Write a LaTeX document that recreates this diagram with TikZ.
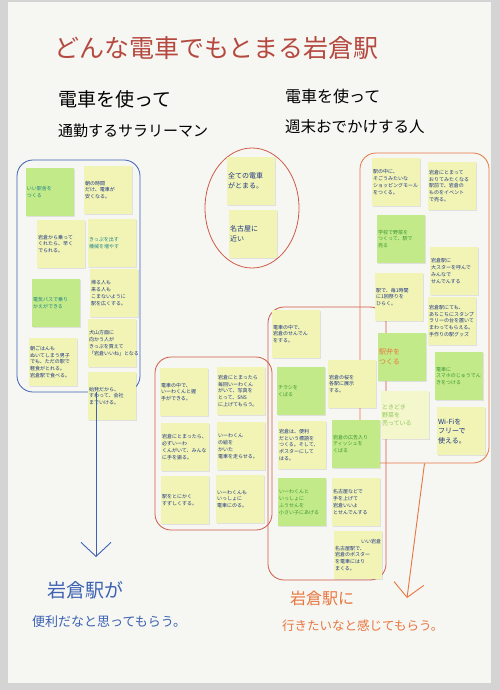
\documentclass[tikz,border=0pt]{standalone}
\usepackage{fontspec}
\usepackage{xcolor}
\usepackage{tikz}
\usetikzlibrary{arrows.meta,shadows,shapes.geometric}
\newfontfamily\iwajp{Noto Sans CJK JP}
\definecolor{iwapaper}{HTML}{F6F6F3}
\definecolor{iwaedge}{HTML}{D4D4D4}
\definecolor{iwatitle}{HTML}{B5493F}
\definecolor{iwared}{HTML}{CF5A46}
\definecolor{iwaorange}{HTML}{E8763E}
\definecolor{iwablue}{HTML}{3D62B3}
\definecolor{iwayellow}{HTML}{F1F4B4}
\definecolor{iwapale}{HTML}{F4F6CC}
\definecolor{iwagreen}{HTML}{C3EA88}
\definecolor{iwaink}{HTML}{1F3586}
\definecolor{iwagreenink}{HTML}{3A9636}
\definecolor{iwateal}{HTML}{20848A}
\definecolor{iwalightink}{HTML}{8DC85E}
\tikzset{%
  iwanote/.style={%
    fill=iwayellow,
    minimum width=48pt,
    minimum height=48pt,
    text width=46pt,
    inner sep=1pt,
    align=left,
    text=iwaink,
    font=\iwajp\fontsize{5}{6.8}\selectfont,
    drop shadow={opacity=0.18,shadow xshift=0.8pt,shadow yshift=-0.8pt}
  },
  iwagreennote/.style={%
    iwanote,
    fill=iwagreen,
    text=iwagreenink
  },
  iwabignote/.style={%
    font=\iwajp\fontsize{7}{9.5}\selectfont
  },
  iwagroup/.style={%
    draw,
    line width=0.8pt,
    rounded corners=16pt
  },
  iwahead/.style={%
    anchor=west,
    inner sep=0pt,
    text=black
  },
  iwaarrow/.style={-{Straight Barb[length=14pt,width=30pt]},line width=0.9pt}
}

\begin{document}
\begin{tikzpicture}[x=1pt,y=-1pt]
    \useasboundingbox (0,0) rectangle (500,690);
    \fill[iwaedge] (0,0) rectangle (500,690);
    \fill[iwapaper] (8,2) rectangle (491,683);

    \node[iwahead,text=iwatitle,font=\iwajp\fontsize{25}{25}\selectfont] (title) at (54,48) {どんな電車でもとまる岩倉駅};
    \node[iwahead,font=\iwajp\fontsize{19}{19}\selectfont] (commute1) at (58,99) {電車を使って};
    \node[iwahead,font=\iwajp\fontsize{15}{15}\selectfont] (commute2) at (58,131) {通勤するサラリーマン};
    \node[iwahead,font=\iwajp\fontsize{16}{16}\selectfont] (weekend1) at (285,96) {電車を使って};
    \node[iwahead,font=\iwajp\fontsize{15.5}{15.5}\selectfont] (weekend2) at (285,127) {週末おでかけする人};

    \node[iwagroup,draw=iwablue,minimum width=123pt,minimum height=232pt] (leftgroup) at (78.5,276) {};
    \node[ellipse,draw=iwared,line width=0.8pt,minimum width=94pt,minimum height=120pt] (stopgroup) at (252,208) {};
    \node[iwagroup,draw=iwared,minimum width=117pt,minimum height=173pt] (iwakungroup) at (213.5,443.5) {};
    \node[iwagroup,draw=iwared,minimum width=118pt,minimum height=273pt] (promogroup) at (327,443.5) {};
    \node[iwagroup,draw=iwaorange,minimum width=129pt,minimum height=310pt] (rightgroup) at (424.5,308) {};

    \node[iwagreennote,text=iwateal] (station) at (50,192) {いい駅舎を\\つくる};
    \node[iwanote] (cheapfare) at (108,190) {朝の時間\\だけ、電車が\\安くなる。};
    \node[iwanote] (ridefrom) at (61,244) {岩倉から乗って\\くれたら、早く\\でられる。};
    \node[iwanote,text=iwateal] (ticket) at (112,243) {きっぷを出す\\機械を増やす};
    \node[iwagreennote,text=iwateal] (transfer) at (56,303) {電気バスで乗り\\かえができる};
    \node[iwanote] (wide) at (114,293) {帰る人も\\来る人も\\こまないように\\駅を広くする。};
    \node[iwanote] (inuyama) at (112,343) {犬山方面に\\向かう人が\\きっぷを買えて\\「岩倉いいね」となる};
    \node[iwanote] (breakfast) at (53,362) {朝ごはんも\\ぬいてしまう男子\\でも、ただの駅で\\軽食がとれる。\\岩倉駅で食べる。};
    \node[iwanote] (firsttrain) at (112,396) {始発だから、\\すわって、会社\\までいける。};

    \node[iwanote,iwabignote] (allstop) at (251,181) {全ての電車\\がとまる。};
    \node[iwanote,iwabignote] (nagoya) at (253,234) {名古屋に\\近い};

    \node[iwanote] (handshake) at (184,392) {電車の中で、\\いーわくんと握\\手ができる。};
    \node[iwanote] (photo) at (241,391) {岩倉にとまったら\\毎回いーわくん\\がいて、写真を\\とって、SNS\\に上げてもらう。};
    \node[iwanote] (wave) at (185,447) {岩倉にとまったら、\\必ずいーわ\\くんがいて、みんな\\に手を振る。};
    \node[iwanote] (wrapping) at (241,446) {いーわくん\\の絵を\\かいた\\電車を走らせる。};
    \node[iwanote] (cool) at (185,500) {駅をとにかく\\すずしくする。};
    \node[iwanote] (ride) at (240,499) {いーわくんも\\いっしょに\\電車にのる。};

    \node[iwanote] (onboard) at (296,334) {電車の中で、\\岩倉のせんでん\\をする。};
    \node[iwagreennote] (flyer) at (301,391) {チラシを\\くばる};
    \node[iwanote] (sakura) at (352,384) {岩倉の桜を\\各駅に展示\\する。};
    \node[iwanote] (slogan) at (302,445) {岩倉は、便利\\だという標語を\\つくる。そして、\\ポスターにして\\はる。};
    \node[iwagreennote] (tissue) at (356,444) {岩倉の広告入り\\ティッシュを\\くばる};
    \node[iwagreennote] (balloon) at (302,502) {いーわくんと\\いっしょに\\ふうせんを\\小さい子にあげる};
    \node[iwanote] (raisehand) at (356,502) {名古屋などで\\手を上げて\\岩倉いいよ\\とせんでんする};
    \node[iwanote] (poster) at (358,555) {\hfill いい岩倉\\名古屋駅で、\\岩倉のポスター\\を電車にはり\\まくる。};

    \node[iwanote] (mall) at (396,182) {駅の中に、\\そごうみたいな\\ショッピングモール\\をつくる。};
    \node[iwanote] (event) at (452,186) {岩倉にとまって\\おりてみたくなる\\駅前で、岩倉の\\ものをイベント\\で売る。};
    \node[iwagreennote] (school) at (401,239) {学校で野菜を\\つくって、駅で\\売る};
    \node[iwanote] (star) at (454,271) {岩倉駅に\\大スターを呼んで\\みんなで\\せんでんする};
    \node[iwanote] (festival) at (399,297) {駅で、毎1時間\\に1回祭りを\\ひらく。};
    \node[iwanote] (stamp) at (452,321) {岩倉駅にても、\\あちこちにスタンプ\\ラリーの台を置いて\\まわってもらえる。\\手作りの駅グッズ};
    \node[iwagreennote,iwabignote,text=iwaorange] (ekiben) at (402,357) {駅弁を\\つくる};
    \node[iwagreennote] (charge) at (459,376) {電車に\\スマホのじゅうでん\\きをつける};
    \node[iwanote,fill=iwapale,text=iwalightink,font=\iwajp\fontsize{6}{8}\selectfont] (vegetable) at (405,415) {ときどき\\野菜を\\売っている};
    \node[iwanote,iwabignote] (wifi) at (461,431) {Wi-Fiを\\フリーで\\使える。};

    \node[iwahead,text=iwablue,font=\iwajp\fontsize{19}{19}\selectfont] (convenient1) at (47,590) {岩倉駅が};
    \node[iwahead,text=iwablue,font=\iwajp\fontsize{13}{13}\selectfont] (convenient2) at (32,622) {便利だなと思ってもらう。};
    \node[iwahead,text=iwaorange,font=\iwajp\fontsize{16}{16}\selectfont] (visit1) at (290,598) {岩倉駅に};
    \node[iwahead,text=iwaorange,font=\iwajp\fontsize{12.5}{12.5}\selectfont] (visit2) at (282,626) {行きたいなと感じてもらう。};

    \coordinate (bluetip) at (96,557);
    \coordinate (orangetip) at (407,598);
    \draw[iwaarrow,draw=iwablue] (leftgroup.south -| bluetip) -- (bluetip);
    \draw[iwaarrow,draw=iwaorange] (rightgroup.south) -- (orangetip);
  \end{tikzpicture}
\end{document}
